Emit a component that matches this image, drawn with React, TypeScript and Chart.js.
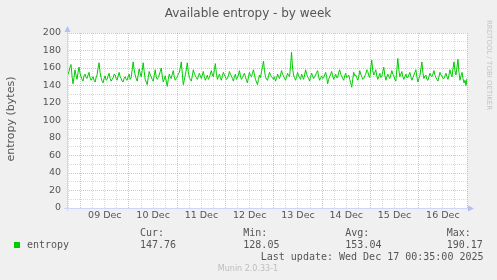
import React, { useEffect, useRef } from "react";
import { Chart, registerables } from "chart.js";
Chart.register(...registerables);

// time axis in hours since 08 Dec 00:00
const startHour = 17.2;
const endHour = 216;

const entropy = [
  150, 153, 156, 161, 164, 151, 142, 149, 158, 152, 147, 155, 161, 154, 150, 147, 145, 151, 153, 149,
  148, 152, 155, 149, 146, 148, 150, 146, 144, 149, 152, 160, 166, 155, 149, 145, 143, 148, 151, 146,
  147, 151, 154, 148, 145, 147, 149, 153, 152, 148, 146, 151, 155, 150, 148, 145, 144, 148, 150, 147,
  146, 150, 153, 147, 149, 158, 167, 158, 152, 148, 145, 152, 159, 154, 150, 157, 166, 156, 147, 144,
  141, 149, 156, 152, 150, 147, 145, 151, 158, 150, 147, 149, 152, 156, 160, 151, 144, 147, 151, 145,
  139, 147, 153, 150, 148, 153, 157, 150, 146, 148, 150, 153, 155, 160, 167, 154, 141, 146, 152, 158,
  166, 156, 149, 147, 145, 151, 158, 154, 151, 149, 147, 150, 154, 151, 148, 152, 156, 150, 146, 149,
  152, 147, 149, 153, 157, 152, 150, 158, 165, 154, 147, 150, 153, 149, 146, 151, 155, 152, 150, 147,
  148, 151, 156, 153, 151, 148, 145, 150, 153, 147, 149, 152, 157, 151, 147, 149, 152, 154, 150, 146,
  143, 150, 155, 151, 150, 154, 158, 152, 147, 144, 141, 147, 152, 149, 156, 161, 168, 157, 150, 147,
  146, 151, 155, 152, 150, 149, 147, 150, 145, 148, 153, 150, 148, 152, 157, 153, 151, 148, 146, 150,
  154, 151, 150, 163, 178, 160, 152, 149, 146, 150, 155, 151, 149, 147, 153, 150, 147, 152, 158, 153,
  150, 148, 145, 150, 154, 151, 148, 150, 152, 155, 157, 150, 146, 149, 151, 148, 149, 152, 155, 150,
  142, 147, 150, 153, 156, 151, 147, 150, 153, 149, 149, 155, 158, 153, 151, 148, 146, 151, 154, 149,
  150, 152, 147, 143, 138, 147, 155, 151, 152, 149, 146, 150, 157, 153, 150, 147, 148, 151, 153, 158,
  156, 151, 149, 160, 169, 157, 152, 155, 158, 151, 147, 150, 154, 149, 150, 156, 161, 152, 146, 150,
  153, 150, 148, 152, 157, 153, 151, 147, 145, 158, 171, 158, 150, 153, 156, 150, 147, 150, 153, 149,
  149, 152, 155, 150, 146, 149, 152, 155, 158, 150, 144, 148, 151, 159, 167, 155, 148, 151, 152, 147,
  146, 150, 154, 151, 150, 153, 157, 152, 149, 147, 145, 150, 155, 152, 151, 148, 148, 151, 154, 150,
  147, 152, 158, 153, 150, 159, 167, 157, 152, 161, 170, 155, 146, 151, 155, 148, 143, 146, 140, 148,
];

const dayLabels = ["09 Dec", "10 Dec", "11 Dec", "12 Dec", "13 Dec", "14 Dec", "15 Dec", "16 Dec"];
const firstNoonHour = 36;
const yMax = 200;
const yMinorStep = 10;
const yMajorStep = 20;
const xMinorStepHours = 6;

const titleText = "Available entropy - by week";
const yTitleText = "entropy (bytes)";
const seriesName = "entropy";
const statLabels = ["Cur:", "Min:", "Avg:", "Max:"];
const statValues = ["147.76", "128.05", "153.04", "190.17"];
const lastUpdateText = "Last update: Wed Dec 17 00:35:00 2025";
const versionText = "Munin 2.0.33-1";
const watermarkText = "RRDTOOL / TOBI OETIKER";

const GREEN = "#00CC00";
const RED_GRID = "rgba(245,110,110,0.5)";
const GRAY_GRID = "rgba(160,160,160,0.38)";
const AXIS = "#CFD6F8";
const ARROW = "#b4bff4";
const FONT = "#555555";

export default function App() {
  const ref = useRef<HTMLCanvasElement | null>(null);

  useEffect(() => {
    document.body.style.margin = "0";
    document.body.style.background = "#F0F0F0";
    const canvas = ref.current!;
    const step = (endHour - startHour) / (entropy.length - 1);
    const points = entropy.map((v, i) => ({ x: startHour + i * step, y: v }));

    const deco = {
      id: "deco",
      beforeDraw(chart: any) {
        const { ctx, chartArea: a } = chart;
        ctx.save();
        ctx.fillStyle = "#F0F0F0";
        ctx.fillRect(0, 0, chart.width, chart.height);
        ctx.fillStyle = "#FFFFFF";
        ctx.fillRect(a.left, a.top, a.right - a.left, a.bottom - a.top);
        ctx.restore();
      },
      afterDraw(chart: any) {
        const { ctx, chartArea: a } = chart;
        ctx.save();
        // axes
        ctx.strokeStyle = AXIS;
        ctx.lineWidth = 1;
        ctx.beginPath();
        ctx.moveTo(a.left + 0.5, a.bottom + 3);
        ctx.lineTo(a.left + 0.5, a.top - 4);
        ctx.moveTo(a.left - 3, a.bottom + 0.5);
        ctx.lineTo(a.right + 4, a.bottom + 0.5);
        ctx.stroke();
        ctx.fillStyle = ARROW;
        ctx.beginPath();
        ctx.moveTo(a.left + 0.5, a.top - 7);
        ctx.lineTo(a.left - 2.5, a.top - 1);
        ctx.lineTo(a.left + 3.5, a.top - 1);
        ctx.closePath();
        ctx.fill();
        ctx.beginPath();
        ctx.moveTo(a.right + 7, a.bottom + 0.5);
        ctx.lineTo(a.right + 1, a.bottom - 2.5);
        ctx.lineTo(a.right + 1, a.bottom + 3.5);
        ctx.closePath();
        ctx.fill();

        // title
        ctx.fillStyle = FONT;
        ctx.textBaseline = "middle";
        ctx.textAlign = "center";
        ctx.font = "12px 'DejaVu Sans'";
        ctx.fillText(titleText, 248, 13.5);

        // y title
        ctx.save();
        ctx.translate(11, 119);
        ctx.rotate(-Math.PI / 2);
        ctx.font = "11px 'DejaVu Sans'";
        ctx.fillText(yTitleText, 0, 0);
        ctx.restore();

        // watermark
        ctx.save();
        ctx.translate(489, 20);
        ctx.rotate(Math.PI / 2);
        ctx.textAlign = "left";
        ctx.fillStyle = "#c4c4c4";
        ctx.font = "7px 'DejaVu Sans'";
        ctx.fillText(watermarkText, 0, 0);
        ctx.restore();

        // legend
        ctx.fillStyle = GREEN;
        ctx.fillRect(14, 242, 6, 6);
        ctx.fillStyle = FONT;
        ctx.textAlign = "left";
        ctx.font = "10px 'DejaVu Sans Mono'";
        ctx.fillText(seriesName, 27, 245.5);
        const statX = [140, 243.3, 345.3, 446.7];
        statLabels.forEach((l, i) => ctx.fillText(l, statX[i], 233.5));
        statValues.forEach((v, i) => ctx.fillText(v, statX[i], 245.5));
        ctx.textAlign = "right";
        ctx.fillText(lastUpdateText, 483.5, 257.5);

        ctx.textAlign = "center";
        ctx.fillStyle = "#bdbdbd";
        ctx.font = "8px 'DejaVu Sans'";
        ctx.fillText(versionText, 248, 269);
        ctx.restore();
      },
    };

    const chart = new Chart(canvas, {
      type: "line",
      data: {
        datasets: [
          {
            label: seriesName,
            data: points,
            borderColor: GREEN,
            borderWidth: 1,
            pointRadius: 0,
            tension: 0,
            fill: false,
          },
        ],
      },
      options: {
        responsive: false,
        animation: false,
        devicePixelRatio: 1,
        layout: { padding: { top: 33, right: 30, bottom: 52, left: 0 } },
        plugins: { legend: { display: false }, tooltip: { enabled: false }, title: { display: false } },
        scales: {
          x: {
            type: "linear",
            min: startHour,
            max: endHour,
            afterBuildTicks: (s: any) => {
              const t = [];
              for (let h = 18; h <= endHour; h += xMinorStepHours) t.push({ value: h });
              s.ticks = t;
            },
            afterFit: (s: any) => {
              s.height = 20;
            },
            ticks: {
              autoSkip: false,
              maxRotation: 0,
              minRotation: 0,
              padding: 2,
              color: FONT,
              font: { family: "'DejaVu Sans'", size: 9.5 },
              callback: (v: any) => {
                const h = Number(v);
                if ((h - firstNoonHour) % 24 === 0 && h >= firstNoonHour) {
                  return dayLabels[(h - firstNoonHour) / 24] ?? "";
                }
                return "";
              },
            },
            grid: {
              drawTicks: false,
              lineWidth: 1,
              color: (c: any) => (c.tick && c.tick.value % 24 === 0 ? RED_GRID : GRAY_GRID),
            },
            border: { display: false, dash: [1, 1] },
          },
          y: {
            type: "linear",
            min: 0,
            max: yMax,
            afterBuildTicks: (s: any) => {
              const t = [];
              for (let v = 0; v <= yMax; v += yMinorStep) t.push({ value: v });
              s.ticks = t;
            },
            afterFit: (s: any) => {
              s.width = 67;
            },
            ticks: {
              autoSkip: false,
              padding: 6,
              color: FONT,
              font: { family: "'DejaVu Sans'", size: 9.5 },
              callback: (v: any) => (Number(v) % yMajorStep === 0 ? String(v) : ""),
            },
            grid: {
              drawTicks: false,
              lineWidth: 1,
              color: (c: any) => (c.tick && c.tick.value % yMajorStep === 0 ? RED_GRID : GRAY_GRID),
            },
            border: { display: false, dash: [1, 1] },
          },
        },
      },
      plugins: [deco],
    } as any);
    return () => chart.destroy();
  }, []);

  return (
    <div style={{ width: 497, height: 280, background: "#F0F0F0" }}>
      <canvas ref={ref} width={497} height={280} style={{ display: "block", width: 497, height: 280 }} />
    </div>
  );
}
